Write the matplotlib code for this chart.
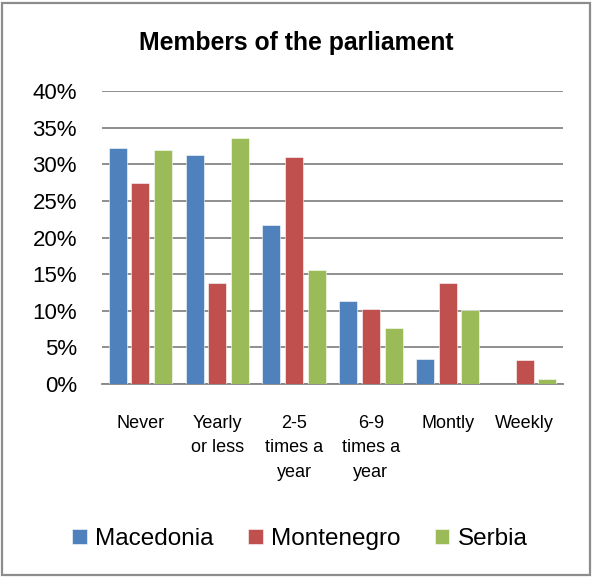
import matplotlib
matplotlib.use("Agg")
import matplotlib.pyplot as plt
import numpy as np
from matplotlib.ticker import FuncFormatter
from matplotlib.patches import Rectangle

plt.rcParams['font.family'] = ['Liberation Sans', 'DejaVu Sans']

categories = ["Never", "Yearly\nor less", "2-5\ntimes a\nyear", "6-9\ntimes a\nyear", "Montly", "Weekly"]
series = ["Macedonia", "Montenegro", "Serbia"]
macedonia = [32.2, 31.3, 21.7, 11.3, 3.4, 0.0]
montenegro = [27.5, 13.8, 31.0, 10.3, 13.8, 3.3]
serbia = [32.0, 33.6, 15.5, 7.7, 10.1, 0.7]
colors = ["#4F81BD", "#C0504D", "#9BBB59"]
yticks = [0, 5, 10, 15, 20, 25, 30, 35, 40]

fig = plt.figure(figsize=(5.92, 5.77), dpi=100)
ax = fig.add_axes([102 / 592, 1 - 384 / 577, 461 / 592, 293 / 577])

x = np.arange(len(categories))
w = 0.235
off = 0.295
for i, (vals, c) in enumerate(zip([macedonia, montenegro, serbia], colors)):
    ax.bar(x + (i - 1) * off, vals, width=w, color=c, label=series[i], zorder=3,
           edgecolor="white", linewidth=0.4)

ax.set_xlim(-0.5, len(categories) - 0.5)
ax.set_ylim(0, 40)
ax.set_yticks(yticks)
ax.yaxis.set_major_formatter(FuncFormatter(lambda v, p: f"{int(v)}%"))
ax.grid(axis="y", color="#868686", linewidth=1.3, zorder=0)
for s in ["top", "right", "left"]:
    ax.spines[s].set_visible(False)
ax.spines["bottom"].set_color("#868686")
ax.spines["bottom"].set_linewidth(1.3)
ax.tick_params(axis="y", length=0, labelsize=16, pad=18)
ax.tick_params(axis="x", length=0, labelsize=13, pad=22)
ax.set_xticks(x)
ax.set_xticklabels(categories, va="top", linespacing=1.6)

fig.text(0.5, 1 - 43 / 577, "Members of the parliament", ha="center", va="center",
         fontsize=17.8, fontweight="bold")

ax.legend(loc="center", bbox_to_anchor=(300 / 592, 1 - 539 / 577), bbox_transform=fig.transFigure,
          ncol=3, frameon=False, fontsize=17.5, handlelength=0.6, handleheight=0.6,
          handletextpad=0.35, columnspacing=1.4)

fig.patches.append(Rectangle((0.003, 0.004), 0.993, 0.991, transform=fig.transFigure,
                             fill=False, edgecolor="#8c8c8c", linewidth=1.6))

fig.savefig("out.png", dpi=100)
